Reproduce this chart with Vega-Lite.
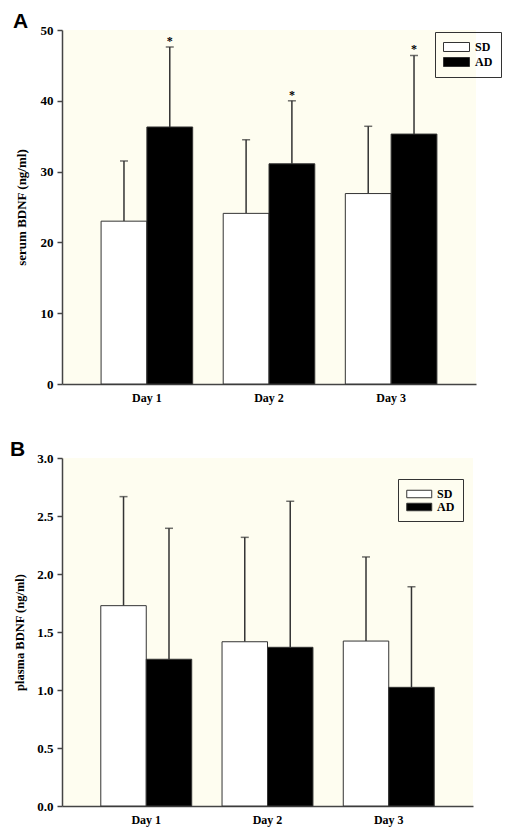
{
  "$schema": "https://vega.github.io/schema/vega-lite/v6.json",
  "background": "white",
  "padding": {"left": 10, "top": 11, "right": 5, "bottom": 5},
  "spacing": 36,
  "config": {
    "view": {"stroke": null, "fill": "#fefdf0"},
    "font": "Liberation Serif",
    "axis": {"labelFont": "Liberation Serif", "labelFontWeight": "bold", "labelColor": "black", "titleFont": "Liberation Serif", "titleFontWeight": "bold", "titleColor": "black", "domainColor": "#444", "tickColor": "#444", "domainWidth": 1.5, "tickWidth": 1.5, "grid": false},
    "legend": {"labelFont": "Liberation Serif", "labelFontWeight": "bold", "labelFontSize": 12, "labelColor": "black"}
  },
  "datasets": {
    "serum": [
      {"day": "Day 1", "group": "SD", "value": 23.0, "upper": 31.5, "star": ""},
      {"day": "Day 1", "group": "AD", "value": 36.3, "upper": 47.6, "star": "*"},
      {"day": "Day 2", "group": "SD", "value": 24.1, "upper": 34.5, "star": ""},
      {"day": "Day 2", "group": "AD", "value": 31.1, "upper": 40.0, "star": "*"},
      {"day": "Day 3", "group": "SD", "value": 26.9, "upper": 36.4, "star": ""},
      {"day": "Day 3", "group": "AD", "value": 35.3, "upper": 46.4, "star": "*"}
    ],
    "plasma": [
      {"day": "Day 1", "group": "SD", "value": 1.727, "upper": 2.667},
      {"day": "Day 1", "group": "AD", "value": 1.265, "upper": 2.394},
      {"day": "Day 2", "group": "SD", "value": 1.416, "upper": 2.316},
      {"day": "Day 2", "group": "AD", "value": 1.368, "upper": 2.627},
      {"day": "Day 3", "group": "SD", "value": 1.422, "upper": 2.147},
      {"day": "Day 3", "group": "AD", "value": 1.023, "upper": 1.89}
    ]
  },
  "resolve": {
    "scale": {"x": "independent", "y": "independent", "fill": "independent", "xOffset": "independent"},
    "legend": {"fill": "independent"},
    "axis": {"x": "independent", "y": "independent"}
  },
  "vconcat": [
    {
      "width": 414,
      "height": 354,
      "title": {"text": "A", "anchor": "start", "frame": "group", "font": "Liberation Sans", "fontSize": 21, "fontWeight": "bold", "color": "black", "dx": -49, "offset": -8},
      "data": {"name": "serum"},
      "encoding": {
        "x": {"field": "day", "type": "nominal", "scale": {"paddingInner": 0.25, "paddingOuter": 0.32}, "axis": {"title": null, "labelAngle": 0, "ticks": false, "labelFontSize": 12, "labelPadding": 8}},
        "xOffset": {"field": "group", "type": "nominal", "sort": ["SD", "AD"], "scale": {"paddingInner": 0, "paddingOuter": 0}}
      },
      "layer": [
        {
          "mark": {"type": "rule", "color": "#333", "strokeWidth": 1.5},
          "encoding": {"y": {"field": "value", "type": "quantitative"}, "y2": {"field": "upper"}}
        },
        {
          "mark": {"type": "tick", "color": "#333", "size": 8, "thickness": 1.5},
          "encoding": {"y": {"field": "upper", "type": "quantitative"}}
        },
        {
          "mark": {"type": "bar", "stroke": "#333", "strokeWidth": 1},
          "encoding": {
            "y": {"field": "value", "type": "quantitative", "scale": {"domain": [0, 50]}, "axis": {"values": [0, 10, 20, 30, 40, 50], "title": "serum BDNF (ng/ml)", "titleFontSize": 13, "labelFontSize": 13, "tickSize": 5, "labelPadding": 4, "titlePadding": 12}},
            "fill": {"field": "group", "type": "nominal", "scale": {"domain": ["SD", "AD"], "range": ["white", "black"]}, "legend": {"title": null, "orient": "none", "legendX": 373, "legendY": 2, "strokeColor": "#333", "padding": 8, "symbolType": "M-1,-0.69H3V0.69H-1Z", "symbolSize": 169, "symbolStrokeColor": "#333", "symbolStrokeWidth": 1, "labelOffset": 18, "rowPadding": 1}}
          }
        },
        {
          "mark": {"type": "text", "font": "Liberation Serif", "fontWeight": "bold", "fontSize": 12, "baseline": "alphabetic", "dy": -2, "color": "black"},
          "encoding": {"y": {"field": "upper", "type": "quantitative"}, "text": {"field": "star"}}
        }
      ]
    },
    {
      "width": 411,
      "height": 348,
      "title": {"text": "B", "anchor": "start", "frame": "group", "font": "Liberation Sans", "fontSize": 21, "fontWeight": "bold", "color": "black", "dx": -52, "offset": -8},
      "data": {"name": "plasma"},
      "encoding": {
        "x": {"field": "day", "type": "nominal", "scale": {"paddingInner": 0.25, "paddingOuter": 0.32}, "axis": {"title": null, "labelAngle": 0, "ticks": false, "labelFontSize": 12, "labelPadding": 8}},
        "xOffset": {"field": "group", "type": "nominal", "sort": ["SD", "AD"], "scale": {"paddingInner": 0, "paddingOuter": 0}}
      },
      "layer": [
        {
          "mark": {"type": "rule", "color": "#333", "strokeWidth": 1.5},
          "encoding": {"y": {"field": "value", "type": "quantitative"}, "y2": {"field": "upper"}}
        },
        {
          "mark": {"type": "tick", "color": "#333", "size": 8, "thickness": 1.5},
          "encoding": {"y": {"field": "upper", "type": "quantitative"}}
        },
        {
          "mark": {"type": "bar", "stroke": "#333", "strokeWidth": 1},
          "encoding": {
            "y": {"field": "value", "type": "quantitative", "scale": {"domain": [0, 3]}, "axis": {"values": [0, 0.5, 1, 1.5, 2, 2.5, 3], "format": ".1f", "title": "plasma BDNF (ng/ml)", "titleFontSize": 12.5, "labelFontSize": 13, "tickSize": 5, "labelPadding": 4, "titlePadding": 10}},
            "fill": {"field": "group", "type": "nominal", "scale": {"domain": ["SD", "AD"], "range": ["white", "black"]}, "legend": {"title": null, "orient": "none", "legendX": 336, "legendY": 21, "strokeColor": "#333", "padding": 8, "symbolType": "M-1,-0.6H3V0.6H-1Z", "symbolSize": 156, "symbolStrokeColor": "#333", "symbolStrokeWidth": 1, "labelOffset": 17, "rowPadding": 0}}
          }
        }
      ]
    }
  ]
}
